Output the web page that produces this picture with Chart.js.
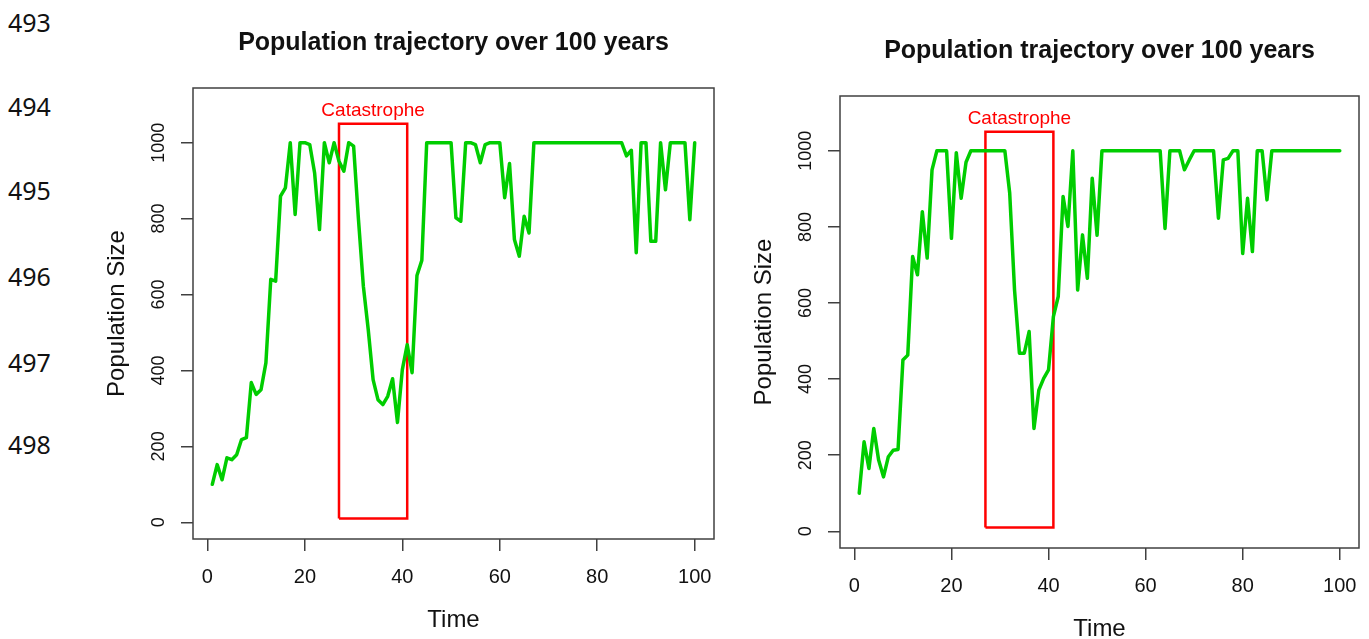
<!DOCTYPE html>
<html>
<head>
<meta charset="utf-8">
<script src="https://cdn.jsdelivr.net/npm/chart.js@4.4.1/dist/chart.umd.min.js"></script>
<style>
  body { margin: 0; background: #fff; width: 1369px; height: 639px; overflow: hidden; position: relative; }
  .ln { position: absolute; left: 8px; font-family: "Noto Sans", sans-serif; font-size: 25px; color: #111; line-height: 1; transform: translateY(-50%); }
  canvas { position: absolute; top: 0; }
</style>
</head>
<body>
<div class="ln" style="top:22px">493</div>
<div class="ln" style="top:106px">494</div>
<div class="ln" style="top:190px">495</div>
<div class="ln" style="top:276px">496</div>
<div class="ln" style="top:362px">497</div>
<div class="ln" style="top:444px">498</div>
<canvas id="runA" width="650" height="639" style="left:80px"></canvas>
<canvas id="runB" width="644" height="639" style="left:725px"></canvas>
<script>
// time steps 1..100
const years = Array.from({ length: 100 }, (_, i) => i + 1);

// population size per year, first simulation run
const runA = [
  100, 152, 112, 170, 165, 178, 218, 223, 368, 337,
  349, 420, 640, 635, 859, 881, 1000, 811, 1000, 1000,
  995, 920, 771, 1000, 947, 1000, 951, 925, 1000, 991,
  797, 622, 508, 376, 323, 310, 332, 378, 263, 402,
  468, 394, 650, 690, 1000, 1000, 1000, 1000, 1000, 1000,
  802, 793, 1000, 1000, 995, 947, 995, 1000, 1000, 1000,
  855, 945, 745, 701, 806, 762, 1000, 1000, 1000, 1000,
  1000, 1000, 1000, 1000, 1000, 1000, 1000, 1000, 1000, 1000,
  1000, 1000, 1000, 1000, 1000, 965, 980, 710, 1000, 1000,
  740, 740, 1000, 876, 1000, 1000, 1000, 1000, 797, 1000
];

// second simulation run
const runB = [
  100, 235, 165, 270, 187, 143, 196, 213, 215, 450,
  463, 722, 674, 840, 718, 950, 1000, 1000, 1000, 770,
  995, 875, 970, 1000, 1000, 1000, 1000, 1000, 1000, 1000,
  1000, 889, 634, 468, 468, 525, 270, 371, 402, 424,
  564, 617, 880, 801, 1000, 634, 779, 665, 928, 778,
  1000, 1000, 1000, 1000, 1000, 1000, 1000, 1000, 1000, 1000,
  1000, 1000, 1000, 796, 1000, 1000, 1000, 950, 976, 1000,
  1000, 1000, 1000, 1000, 823, 976, 980, 1000, 1000, 730,
  875, 735, 1000, 1000, 871, 1000, 1000, 1000, 1000, 1000,
  1000, 1000, 1000, 1000, 1000, 1000, 1000, 1000, 1000, 1000
];

const xTicks = [0, 20, 40, 60, 80, 100];
const yTicks = [0, 200, 400, 600, 800, 1000];

// catastrophe window: years 27-41
const catX = [27, 41];
const catY = [10, 1050];
const catLabelY = 1085;

const titleText = 'Population trajectory over 100 years';
const FONT = '"Liberation Sans", Arial, sans-serif';

// R-style box, tick labels, titles
const rDecor = {
  id: 'rDecor',
  afterDraw(chart) {
    const { ctx, chartArea: a, scales: { x, y } } = chart;
    ctx.save();
    ctx.strokeStyle = '#404040';
    ctx.lineWidth = 1.5;
    ctx.strokeRect(a.left, a.top, a.right - a.left, a.bottom - a.top);

    ctx.fillStyle = '#111';
    ctx.textAlign = 'center';
    ctx.textBaseline = 'middle';

    ctx.font = '20px ' + FONT;
    xTicks.forEach(v => ctx.fillText(String(v), x.getPixelForValue(v), a.bottom + 38));
    ctx.font = '18px ' + FONT;
    yTicks.forEach(v => {
      ctx.save();
      ctx.translate(a.left - 34, y.getPixelForValue(v));
      ctx.rotate(-Math.PI / 2);
      ctx.fillText(String(v), 0, 0);
      ctx.restore();
    });

    ctx.font = '24px ' + FONT;
    ctx.fillText('Time', (a.left + a.right) / 2, a.bottom + 81);
    ctx.save();
    ctx.translate(a.left - 76, (a.top + a.bottom) / 2);
    ctx.rotate(-Math.PI / 2);
    ctx.fillText('Population Size', 0, 0);
    ctx.restore();

    ctx.font = 'bold 25px ' + FONT;
    ctx.fillText(titleText, (a.left + a.right) / 2, a.top - 45);

    ctx.fillStyle = '#ff0000';
    ctx.font = '19px ' + FONT;
    ctx.fillText('Catastrophe', x.getPixelForValue((catX[0] + catX[1]) / 2), y.getPixelForValue(catLabelY));
    ctx.restore();
  }
};

function makeChart(id, series, pad, axisW, axisH) {
  const tickGrid = { drawOnChartArea: false, drawTicks: true, tickLength: 12, color: '#404040', lineWidth: 1.5 };
  return new Chart(document.getElementById(id), {
    type: 'line',
    data: {
      datasets: [
        {
          data: years.map((t, i) => ({ x: t, y: series[i] })),
          borderColor: '#00cd00',
          borderWidth: 3.5,
          borderJoinStyle: 'round',
          borderCapStyle: 'round',
          pointRadius: 0,
          tension: 0
        },
        {
          data: [
            { x: catX[0], y: catY[0] }, { x: catX[0], y: catY[1] },
            { x: catX[1], y: catY[1] }, { x: catX[1], y: catY[0] },
            { x: catX[0], y: catY[0] }
          ],
          borderColor: '#ff0000',
          borderWidth: 2.5,
          borderJoinStyle: 'miter',
          pointRadius: 0,
          tension: 0
        }
      ]
    },
    options: {
      responsive: false,
      animation: false,
      devicePixelRatio: 1,
      layout: { padding: pad },
      plugins: { legend: { display: false }, tooltip: { enabled: false } },
      scales: {
        x: {
          type: 'linear',
          min: -2.96,
          max: 103.96,
          afterBuildTicks: s => { s.ticks = xTicks.map(v => ({ value: v })); },
          afterFit: s => { s.height = axisH; },
          ticks: { display: false },
          grid: tickGrid,
          border: { display: false }
        },
        y: {
          type: 'linear',
          min: -44,
          max: 1144,
          afterBuildTicks: s => { s.ticks = yTicks.map(v => ({ value: v })); },
          afterFit: s => { s.width = axisW; },
          ticks: { display: false },
          grid: tickGrid,
          border: { display: false }
        }
      }
    },
    plugins: [rDecor]
  });
}

makeChart('runA', runA, { top: 88, right: 16, left: 0, bottom: 0 }, 113, 100);
makeChart('runB', runB, { top: 96, right: 10, left: 0, bottom: 0 }, 115, 91);
</script>
</body>
</html>
